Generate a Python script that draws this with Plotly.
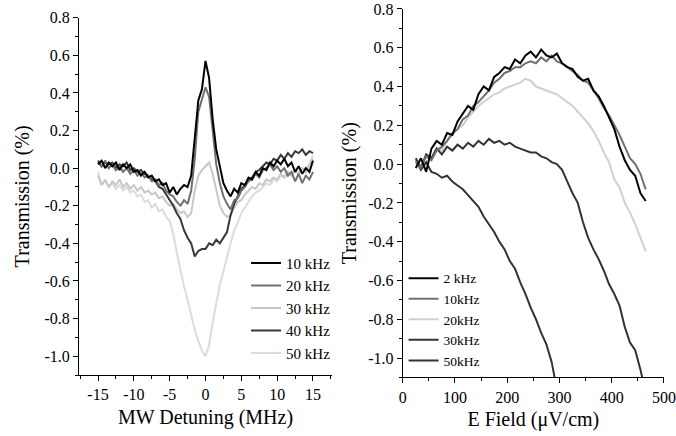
import plotly.graph_objects as go

# ---------------- Left panel data: MW detuning scan ----------------
detuning = [-15, -14.5, -14, -13.5, -13, -12.5, -12, -11.5, -11, -10.5, -10, -9.5, -9, -8.5, -8,
            -7.5, -7, -6.5, -6, -5.5, -5, -4.5, -4, -3.5, -3, -2.5, -2, -1.5, -1, -0.5, 0,
            0.5, 1, 1.5, 2, 2.5, 3, 3.5, 4, 4.5, 5, 5.5, 6, 6.5, 7, 7.5, 8, 8.5, 9, 9.5, 10,
            10.5, 11, 11.5, 12, 12.5, 13, 13.5, 14, 14.5, 15]

t_10k = [0.02, 0.04, 0.00, 0.03, 0.01, 0.03, -0.01, 0.02, 0.00, 0.02, -0.02, -0.01, -0.04, -0.02, -0.05,
         -0.04, -0.07, -0.06, -0.09, -0.08, -0.13, -0.10, -0.14, -0.11, -0.09, -0.10, -0.04, 0.18, 0.36, 0.42, 0.57,
         0.48, 0.26, 0.10, 0.00, -0.08, -0.12, -0.15, -0.11, -0.13, -0.08, -0.09, -0.05, -0.06, -0.02, -0.04, 0.00,
         -0.01, 0.03, 0.01, 0.04, 0.02, 0.05, 0.01, 0.03, -0.02, 0.01, -0.03, 0.00, -0.02, 0.04]

t_20k = [0.03, 0.01, 0.04, 0.00, 0.02, -0.01, 0.01, -0.02, 0.00, -0.03, -0.01, -0.04, -0.02, -0.05, -0.04,
         -0.07, -0.06, -0.09, -0.08, -0.12, -0.14, -0.15, -0.18, -0.20, -0.17, -0.19, -0.12, 0.05, 0.30, 0.36, 0.43,
         0.38, 0.18, 0.02, -0.08, -0.15, -0.19, -0.22, -0.17, -0.16, -0.12, -0.10, -0.07, -0.06, -0.03, -0.05, -0.01,
         0.00, 0.02, -0.01, 0.01, -0.02, 0.00, -0.04, -0.02, -0.07, -0.03, -0.08, -0.04, -0.06, -0.02]

t_30k = [-0.04, -0.09, -0.06, -0.10, -0.07, -0.09, -0.06, -0.10, -0.08, -0.11, -0.09, -0.12, -0.10, -0.13, -0.12,
         -0.14, -0.13, -0.16, -0.15, -0.18, -0.20, -0.19, -0.22, -0.24, -0.23, -0.26, -0.24, -0.12, -0.04, -0.01, 0.01,
         0.03, -0.03, -0.12, -0.20, -0.24, -0.26, -0.25, -0.21, -0.18, -0.17, -0.14, -0.12, -0.10, -0.11, -0.08, -0.09,
         -0.06, -0.07, -0.05, -0.06, -0.03, -0.05, -0.02, -0.04, -0.01, -0.03, 0.00, -0.02, 0.02, 0.05]

t_40k = [0.04, 0.01, 0.03, 0.02, 0.03, 0.00, 0.02, 0.01, 0.03, -0.01, 0.00, -0.02, -0.01, -0.03, -0.04,
         -0.06, -0.07, -0.10, -0.11, -0.14, -0.17, -0.20, -0.24, -0.27, -0.33, -0.37, -0.40, -0.47, -0.44, -0.43, -0.43,
         -0.40, -0.41, -0.38, -0.40, -0.37, -0.34, -0.25, -0.19, -0.15, -0.11, -0.09, -0.06, -0.05, -0.02, -0.01, 0.01,
         0.03, 0.02, 0.05, 0.04, 0.07, 0.05, 0.08, 0.06, 0.09, 0.08, 0.10, 0.07, 0.09, 0.08]

t_50k = [-0.02, -0.09, -0.07, -0.10, -0.08, -0.11, -0.09, -0.12, -0.10, -0.13, -0.12, -0.15, -0.14, -0.18, -0.17,
         -0.21, -0.19, -0.23, -0.22, -0.26, -0.28, -0.35, -0.45, -0.55, -0.63, -0.70, -0.78, -0.86, -0.92, -0.97, -1.00,
         -0.94, -0.82, -0.71, -0.62, -0.55, -0.47, -0.40, -0.33, -0.29, -0.24, -0.21, -0.18, -0.15, -0.13, -0.12, -0.10,
         -0.08, -0.09, -0.06, -0.07, -0.04, -0.05, -0.02, -0.04, -0.01, -0.03, 0.00, -0.02, 0.02, 0.07]

left_names = ["10 kHz", "20 kHz", "30 kHz", "40 kHz", "50 kHz"]
left_series = [t_10k, t_20k, t_30k, t_40k, t_50k]
left_colors = ["#000000", "#707070", "#c8c8c8", "#383838", "#dcdcdc"]

# ---------------- Right panel data: E-field scan ----------------
efield = [25, 35, 45, 55, 65, 75, 85, 95, 105, 115, 125, 135, 145, 155, 165, 175, 185, 195, 205, 215,
          225, 235, 245, 255, 265, 275, 285, 295, 305, 315, 325, 335, 345, 355, 365, 375, 385, 395, 405,
          415, 425, 435, 445, 455, 465]

e_2k = [-0.02, 0.03, -0.04, 0.08, 0.12, 0.10, 0.16, 0.15, 0.22, 0.26, 0.30, 0.28, 0.36, 0.40, 0.38, 0.45,
        0.47, 0.50, 0.49, 0.54, 0.52, 0.56, 0.58, 0.55, 0.59, 0.56, 0.55, 0.57, 0.52, 0.50, 0.49, 0.45, 0.43,
        0.44, 0.38, 0.35, 0.30, 0.24, 0.18, 0.09, 0.02, -0.03, -0.06, -0.15, -0.19]

e_10k = [0.01, -0.02, 0.04, 0.02, 0.07, 0.09, 0.12, 0.16, 0.18, 0.23, 0.25, 0.30, 0.32, 0.35, 0.38, 0.42,
         0.44, 0.47, 0.48, 0.50, 0.50, 0.52, 0.53, 0.52, 0.55, 0.53, 0.56, 0.53, 0.52, 0.50, 0.48, 0.46, 0.43,
         0.42, 0.38, 0.34, 0.29, 0.25, 0.20, 0.15, 0.09, 0.03, 0.00, -0.05, -0.13]

e_20k = [0.02, -0.01, 0.05, 0.03, 0.08, 0.07, 0.12, 0.15, 0.18, 0.20, 0.24, 0.27, 0.30, 0.32, 0.34, 0.36,
         0.37, 0.39, 0.40, 0.41, 0.42, 0.44, 0.43, 0.40, 0.39, 0.38, 0.37, 0.36, 0.34, 0.32, 0.30, 0.27, 0.24,
         0.21, 0.17, 0.12, 0.06, 0.01, -0.08, -0.12, -0.20, -0.25, -0.31, -0.38, -0.45]

e_30k = [0.03, -0.02, 0.05, 0.03, 0.08, 0.05, 0.09, 0.07, 0.10, 0.08, 0.11, 0.09, 0.12, 0.10, 0.13, 0.11,
         0.12, 0.10, 0.11, 0.09, 0.08, 0.07, 0.06, 0.06, 0.04, 0.03, 0.01, 0.00, -0.03, -0.09, -0.15, -0.20, -0.30,
         -0.38, -0.44, -0.49, -0.55, -0.62, -0.67, -0.73, -0.84, -0.92, -0.96, -1.06, -1.18]

e_50k = [0.02, -0.03, 0.01, -0.04, -0.05, -0.07, -0.06, -0.09, -0.11, -0.13, -0.16, -0.19, -0.22, -0.27,
         -0.31, -0.35, -0.40, -0.44, -0.50, -0.54, -0.61, -0.67, -0.74, -0.80, -0.87, -0.93, -1.02, -1.16]

right_names = ["2 kHz", "10kHz", "20kHz", "30kHz", "50kHz"]
right_series = [e_2k, e_10k, e_20k, e_30k, e_50k]
right_colors = ["#000000", "#707070", "#d0d0d0", "#333333", "#333333"]

# tick labels
left_xticks = [-15, -10, -5, 0, 5, 10, 15]
left_xticktext = ["-15", "-10", "-5", "0", "5", "10", "15"]
y_ticks = [-1.0, -0.8, -0.6, -0.4, -0.2, 0.0, 0.2, 0.4, 0.6, 0.8]
y_ticktext = ["-1.0", "-0.8", "-0.6", "-0.4", "-0.2", "0.0", "0.2", "0.4", "0.6", "0.8"]
right_xticks = [0, 100, 200, 300, 400, 500]
right_xticktext = ["0", "100", "200", "300", "400", "500"]

left_xminor = [-17.5, -12.5, -7.5, -2.5, 2.5, 7.5, 12.5, 17.5]
y_minor = [-1.1, -0.9, -0.7, -0.5, -0.3, -0.1, 0.1, 0.3, 0.5, 0.7]
right_xminor = [50, 150, 250, 350, 450]

FONT = "Liberation Serif"

fig = go.Figure()

draw_order = [4, 2, 3, 1, 0]
for i in draw_order:
    fig.add_trace(go.Scatter(x=detuning, y=left_series[i], mode="lines", name=left_names[i],
                             line=dict(color=left_colors[i], width=2), legend="legend",
                             legendrank=i + 1, xaxis="x", yaxis="y"))
for i in draw_order:
    fig.add_trace(go.Scatter(x=efield[:len(right_series[i])], y=right_series[i], mode="lines",
                             name=right_names[i], line=dict(color=right_colors[i], width=2),
                             legend="legend2", legendrank=i + 1, xaxis="x2", yaxis="y2"))

axis_common = dict(showline=True, linecolor="black", linewidth=1, ticks="outside", ticklen=5,
                   tickwidth=1, tickcolor="black", showgrid=False, zeroline=False, mirror=False,
                   tickfont=dict(family=FONT, size=16, color="black"), automargin=False)
minor_common = dict(ticks="outside", ticklen=3, tickwidth=1, tickcolor="black", showgrid=False,
                    tickmode="array")

fig.update_layout(
    width=676, height=436, margin=dict(l=0, r=0, t=0, b=0),
    paper_bgcolor="white", plot_bgcolor="white",
    font=dict(family=FONT, size=15, color="black"),
    xaxis=dict(domain=[0.1169, 0.4911], range=[-17.65, 17.65], tickmode="array",
               tickvals=left_xticks, ticktext=left_xticktext,
               minor=dict(tickvals=left_xminor, **minor_common),
               title=dict(text="MW Detuning (MHz)", font=dict(family=FONT, size=20), standoff=7),
               anchor="y", **axis_common),
    yaxis=dict(domain=[0.1399, 0.9594], range=[-1.1, 0.8], tickmode="array",
               tickvals=y_ticks, ticktext=y_ticktext,
               minor=dict(tickvals=y_minor, **minor_common),
               title=dict(text="Transmission (%)", font=dict(family=FONT, size=20), standoff=9),
               anchor="x", **axis_common),
    xaxis2=dict(domain=[0.5957, 0.9822], range=[0, 500], tickmode="array",
                tickvals=right_xticks, ticktext=right_xticktext,
                minor=dict(tickvals=right_xminor, **minor_common),
                title=dict(text="E Field (μV/cm)", font=dict(family=FONT, size=20), standoff=7),
                anchor="y2", **axis_common),
    yaxis2=dict(domain=[0.1344, 0.9794], range=[-1.1, 0.8], tickmode="array",
                tickvals=y_ticks, ticktext=y_ticktext,
                minor=dict(tickvals=y_minor, **minor_common),
                title=dict(text="Transmission (%)", font=dict(family=FONT, size=20), standoff=6),
                anchor="x2", **axis_common),
    legend=dict(x=0.364, y=0.434, xanchor="left", yanchor="top", bgcolor="rgba(0,0,0,0)",
                font=dict(family=FONT, size=15), tracegroupgap=0, itemwidth=30,
                traceorder="normal"),
    legend2=dict(x=0.597, y=0.397, xanchor="left", yanchor="top", bgcolor="rgba(0,0,0,0)",
                 font=dict(family=FONT, size=13.5), tracegroupgap=0, itemwidth=30,
                 traceorder="normal"),
)

fig.write_html("out.html", config={"displayModeBar": False},
               post_script="document.body.style.margin='0';")
